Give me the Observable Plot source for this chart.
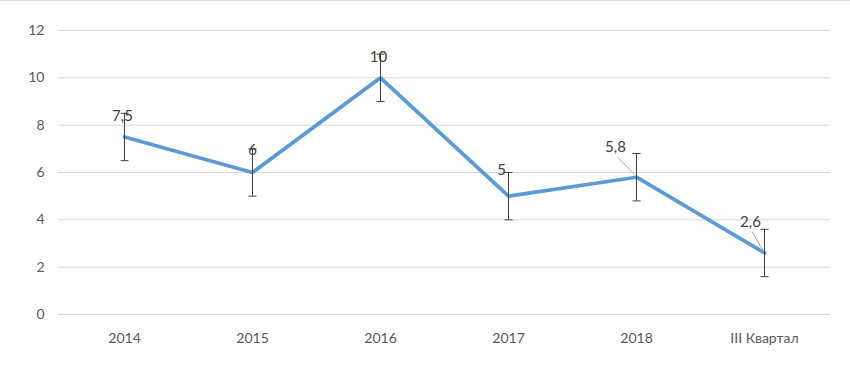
<!DOCTYPE html>
<html><head><meta charset="utf-8">
<script src="https://cdn.jsdelivr.net/npm/d3@7"></script>
<script src="https://cdn.jsdelivr.net/npm/@observablehq/plot@0.6"></script>
<style>
html,body{margin:0;padding:0;background:#fff;}
#chart{width:850px;height:391px;box-sizing:border-box;border-top:1px solid #d9d9d9;}
svg{display:block;}
</style></head>
<body><div id="chart"></div>
<script>
const categories = ["2014","2015","2016","2017","2018","III Квартал"];
const values = [7.5, 6, 10, 5, 5.8, 2.6];
const errorPlus = [1, 1, 1, 1, 1, 1];
const errorMinus = [1, 1, 1, 1, 1, 1];
const valueLabels = ["7,5","6","10","5","5,8","2,6"];
const yTicks = [0, 2, 4, 6, 8, 10, 12];

const data = categories.map((c, i) => ({
  cat: c, v: values[i], hi: values[i] + errorPlus[i], lo: values[i] - errorMinus[i], label: valueLabels[i]
}));

// label offsets (pixels) to mimic manually placed data labels
const ldx = [-2, 0, -2, -7, -21, -14];
const ldy = [-21, -22, -21, -26, -30, -31];

const capSymbol = {draw(ctx, size){ const r = Math.sqrt(size / Math.PI); ctx.moveTo(-r, 0); ctx.lineTo(r, 0); }};

const font = "Lato, 'Open Sans', sans-serif";

const chart = Plot.plot({
  width: 850, height: 390,
  marginLeft: 58, marginRight: 20, marginTop: 29, marginBottom: 77,
  style: {fontFamily: font, fontSize: "14px", color: "#595959", background: "#fff"},
  x: {type: "point", domain: categories, padding: 0.5, label: null},
  y: {domain: [0, 12], ticks: yTicks, label: null},
  marks: [
    Plot.gridY(yTicks, {stroke: "#d9d9d9", strokeOpacity: 1, strokeWidth: 1}),
    Plot.axisY({ticks: yTicks, tickSize: 0, tickPadding: 14, label: null, fontSize: 14, fill: "#595959"}),
    Plot.axisX({tickSize: 0, tickPadding: 19, label: null, fontSize: 14, fill: "#595959"}),
    Plot.line(data, {x: "cat", y: "v", stroke: "#5B9BD5", strokeWidth: 3.75, strokeLinejoin: "miter"}),
    Plot.ruleX(data, {x: "cat", y1: "lo", y2: "hi", stroke: "#404040", strokeWidth: 1}),
    Plot.dot(data, {x: "cat", y: "hi", symbol: capSymbol, r: 4, stroke: "#404040", strokeWidth: 1, fill: "none"}),
    Plot.dot(data, {x: "cat", y: "lo", symbol: capSymbol, r: 4, stroke: "#404040", strokeWidth: 1, fill: "none"}),
    // leader lines for moved labels
    (index, scales) => {
      const g = d3.create("svg:g");
      data.forEach((d, i) => {
        if (Math.abs(ldx[i]) < 10) return;
        const px = scales.x(d.cat), py = scales.y(d.v);
        const lx = px + ldx[i] + 2, ly = py + ldy[i] + 10;
        g.append("line").attr("x1", lx).attr("y1", ly).attr("x2", px - 1).attr("y2", py - 2)
          .attr("stroke", "#a6a6a6").attr("stroke-width", 1);
      });
      return g.node();
    },
    Plot.text(data, {x: "cat", y: "v", text: "label", fill: "#404040", fontSize: 15,
      render(index, scales, values, dims, ctx, next) {
        const node = next(index, scales, values, dims, ctx);
        d3.select(node).selectAll("text").each(function(_, j) {
          const i = index[j];
          const t = d3.select(this);
          t.attr("transform", `translate(${values.x[i] + ldx[i]},${values.y[i] + ldy[i]})`);
        });
        return node;
      }})
  ]
});
document.getElementById("chart").appendChild(chart);
</script></body></html>
